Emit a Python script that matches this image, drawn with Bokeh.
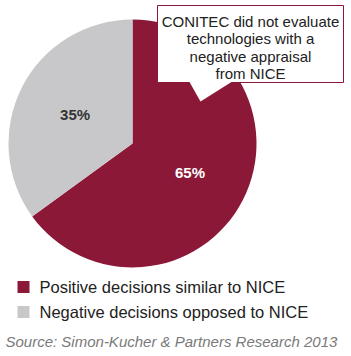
from bokeh.plotting import figure
from bokeh.models import Range1d
from bokeh.core.properties import value
from bokeh.embed import file_html
from bokeh.resources import INLINE
import math

categories = ["Positive decisions similar to NICE", "Negative decisions opposed to NICE"]
shares = [65, 35]
pct_labels = ["65%", "35%"]
colors = ["#8C1838", "#C8C8CA"]
label_colors = ["#FFFFFF", "#333333"]
callout_lines = ["CONITEC did not evaluate", "technologies with a", "negative appraisal", "from NICE"]
source_text = "Source: Simon-Kucher & Partners Research 2013"

W, H = 351, 356
p = figure(width=W, height=H, output_backend="svg", toolbar_location=None,
           x_range=Range1d(0, W), y_range=Range1d(0, H), min_border=0)
p.xaxis.visible = False
p.yaxis.visible = False
p.xgrid.visible = False
p.ygrid.visible = False
p.outline_line_color = None
p.background_fill_color = "white"

cx, cy, r = 132, H - 143, 124
neg_start = math.pi / 2
neg_end = neg_start + shares[1] / 100 * 2 * math.pi
pos_start = neg_end
pos_end = neg_start + 2 * math.pi
p.wedge(x=cx, y=cy, radius=r, start_angle=pos_start, end_angle=pos_end,
        fill_color=colors[0], line_color=None)
p.wedge(x=cx, y=cy, radius=r, start_angle=neg_start, end_angle=neg_end,
        fill_color=colors[1], line_color=None)

lab_r = 0.52
for i, (s, e) in enumerate([(pos_start, pos_end), (neg_start, neg_end)]):
    mid = (s + e) / 2
    p.text(x=[cx + lab_r * r * math.cos(mid)], y=[cy + lab_r * r * math.sin(mid)],
           text=[pct_labels[i]], text_align="center", text_baseline="middle",
           text_font=value("Liberation Sans"), text_font_style="bold",
           text_font_size="15px", text_color=label_colors[i])

# callout box
p.quad(left=157, right=343, top=H - 5, bottom=H - 82, fill_color="white",
       line_color="#8C1838", line_width=1)
p.patch(x=[189, 200, 231], y=[H - 81.5, H - 101, H - 81.5], fill_color="white", line_color=None)
for k, t in enumerate(callout_lines):
    p.text(x=[250], y=[H - (21 + k * 17.3)], text=[t], text_align="center",
           text_baseline="middle", text_font=value("Liberation Sans"),
           text_font_size="15px", text_color="#222222")

# legend
for k, cat in enumerate(categories):
    yc = H - (286.5 + k * 25)
    p.rect(x=[23], y=[yc], width=12, height=12, fill_color=colors[k], line_color=None)
    p.text(x=[39], y=[yc], text=[cat], text_align="left", text_baseline="middle",
           text_font=value("Liberation Sans"), text_font_size="16.5px", text_color="#222222")

p.text(x=[5], y=[H - 341], text=[source_text], text_align="left", text_baseline="middle",
       text_font=value("Liberation Sans"), text_font_style="italic",
       text_font_size="15px", text_color="#7A7A7A")

open("out.html", "w").write(file_html(p, INLINE))
